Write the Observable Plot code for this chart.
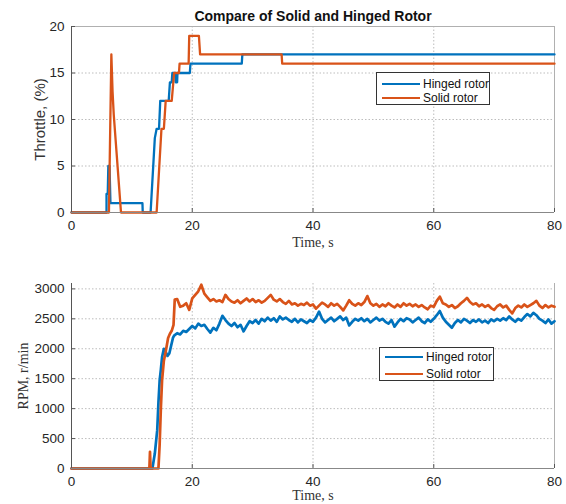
<!DOCTYPE html>
<html>
<head>
<meta charset="utf-8">
<script src="https://cdn.jsdelivr.net/npm/d3@7"></script>
<script src="https://cdn.jsdelivr.net/npm/@observablehq/plot@0.6"></script>
<style>
  body { margin: 0; background: white; }
  #wrap { position: relative; width: 566px; height: 504px; overflow: hidden; background: white; }
  #wrap svg { display: block; }
  .legend { position: absolute; border: 1px solid #333; background: white; box-sizing: border-box;
            font-family: 'Liberation Sans', Arial, sans-serif; font-size: 12px; color: #111; }
  .legend .row { position: absolute; left: 0; height: 0; }
  .legend .sw { position: absolute; height: 2px; top: -1px; }
  .legend .lb { position: absolute; top: -7px; line-height: 14px; white-space: nowrap; }
</style>
</head>
<body>
<div id="wrap"></div>
<script>
const titleText = "Compare of Solid and Hinged Rotor";
const seriesNames = ["Hinged rotor", "Solid rotor"];
const seriesColors = ["#0072BD", "#D95319"];
const xTicks = [0, 20, 40, 60, 80];
const throttleTicks = [0, 5, 10, 15, 20];
const rpmTicks = [0, 500, 1000, 1500, 2000, 2500, 3000];

// Throttle (%) vs time (s)
const hingedThrottle = [[0,0],[5.8,0],[5.8,2],[6.0,2],[6.1,5],[6.3,5],[6.45,1],[11.75,1],[11.8,0],[13.1,0],[13.8,8],[14.1,9],[14.5,9],[14.7,12],[16.1,12],[16.3,14],[16.6,14],[16.7,15],[17.2,15],[17.25,14],[17.5,14],[17.55,15],[19.6,15],[19.7,16],[28.2,16],[28.3,17],[80,17]];
const solidThrottle = [[0,0],[6.2,0],[6.6,17],[6.8,13],[7.0,10.5],[8.2,0],[14.1,0],[14.9,9],[15.3,9],[15.6,12],[16.6,12],[17.0,15],[17.8,15],[17.9,16],[19.4,16],[19.5,19],[21.1,19],[21.3,17],[34.8,17],[34.9,16],[80,16]];

// RPM (r/min) vs time (s)
const hingedRpm = [[0,0],[13.4,0],[13.8,250],[14.2,640],[14.4,1100],[14.6,1470],[14.8,1650],[15.0,1860],[15.3,2000],[15.6,1950],[15.9,1880],[16.2,1920],[16.5,2050],[16.8,2180],
[17,2220],[17.5,2260],[18,2240],[18.5,2300],[19,2280],[19.5,2330],[20,2380],[20.5,2340],[21,2420],[21.5,2380],[22,2400],[22.5,2330],[23,2270],[23.5,2350],[24,2310],[24.5,2420],[25,2550],[25.5,2480],[26,2420],[26.5,2380],[27,2430],[27.5,2360],[28,2400],[28.5,2290],[29,2380],[29.5,2460],[30,2430],[30.5,2480],[31,2420],[31.5,2500],[32,2460],[32.5,2520],[33,2470],[33.5,2510],[34,2450],[34.5,2540],[35,2490],[35.5,2520],[36,2480],[36.5,2450],[37,2500],[37.5,2440],[38,2490],[38.5,2460],[39,2430],[39.5,2480],[40,2450],[40.5,2520],[41,2620],[41.5,2500],[42,2440],[42.5,2480],[43,2520],[43.5,2460],[44,2500],[44.5,2540],[45,2480],[45.5,2520],[46,2390],[46.5,2450],[47,2500],[47.5,2470],[48,2510],[48.5,2460],[49,2500],[49.5,2440],[50,2480],[50.5,2520],[51,2470],[51.5,2500],[52,2450],[52.5,2420],[53,2480],[53.5,2370],[54,2440],[54.5,2500],[55,2460],[55.5,2510],[56,2490],[56.5,2440],[57,2480],[57.5,2520],[58,2460],[58.5,2430],[59,2490],[59.5,2450],[60,2500],[60.5,2560],[61,2630],[61.5,2520],[62,2450],[62.5,2400],[63,2350],[63.5,2430],[64,2480],[64.5,2440],[65,2500],[65.5,2470],[66,2430],[66.5,2480],[67,2450],[67.5,2490],[68,2440],[68.5,2470],[69,2430],[69.5,2490],[70,2460],[70.5,2500],[71,2470],[71.5,2510],[72,2480],[72.5,2540],[73,2490],[73.5,2450],[74,2500],[74.5,2470],[75,2530],[75.5,2580],[76,2540],[76.5,2600],[77,2560],[77.5,2500],[78,2470],[78.5,2430],[79,2490],[79.5,2420],[80,2460]];
const solidRpm = [[0,0],[12.9,0],[13.0,280],[13.1,0],[14.4,0],[14.6,400],[14.8,1000],[15.0,1470],[15.3,1800],[15.6,1950],[16.0,2180],[16.3,2250],[16.6,2300],[16.9,2400],[17.1,2820],
[17.5,2830],[18,2700],[18.5,2720],[19,2760],[19.5,2650],[20,2840],[20.5,2900],[21,2960],[21.5,3070],[22,2920],[22.5,2860],[23,2800],[23.5,2830],[24,2790],[24.5,2810],[25,2780],[25.5,2900],[26,2830],[26.5,2790],[27,2770],[27.5,2810],[28,2760],[28.5,2800],[29,2840],[29.5,2790],[30,2830],[30.5,2780],[31,2810],[31.5,2770],[32,2800],[32.5,2850],[33,2900],[33.5,2820],[34,2790],[34.5,2830],[35,2780],[35.5,2750],[36,2800],[36.5,2740],[37,2760],[37.5,2720],[38,2750],[38.5,2730],[39,2770],[39.5,2720],[40,2740],[40.5,2670],[41,2720],[41.5,2770],[42,2740],[42.5,2700],[43,2760],[43.5,2720],[44,2750],[44.5,2700],[45,2640],[45.5,2720],[46,2810],[46.5,2750],[47,2720],[47.5,2760],[48,2730],[48.5,2780],[49,2880],[49.5,2760],[50,2720],[50.5,2750],[51,2700],[51.5,2740],[52,2710],[52.5,2760],[53,2720],[53.5,2690],[54,2740],[54.5,2700],[55,2760],[55.5,2720],[56,2750],[56.5,2710],[57,2740],[57.5,2700],[58,2730],[58.5,2690],[59,2660],[59.5,2720],[60,2700],[60.5,2800],[61,2870],[61.5,2760],[62,2740],[62.5,2700],[63,2730],[63.5,2680],[64,2710],[64.5,2760],[65,2800],[65.5,2850],[66,2780],[66.5,2740],[67,2760],[67.5,2710],[68,2740],[68.5,2700],[69,2730],[69.5,2680],[70,2650],[70.5,2710],[71,2740],[71.5,2690],[72,2720],[72.5,2650],[73,2590],[73.5,2680],[74,2720],[74.5,2690],[75,2740],[75.5,2700],[76,2730],[76.5,2760],[77,2800],[77.5,2720],[78,2680],[78.5,2730],[79,2690],[79.5,2720],[80,2700]];

const sans = "'Liberation Sans', Arial, Helvetica, sans-serif";
const serif = "'Liberation Serif', 'DejaVu Serif', serif";
const gridStyle = {stroke: "#bdbdbd", strokeOpacity: 1, strokeDasharray: "1.5,2"};
const lineStyle = {x: d => d[0], y: d => d[1], strokeWidth: 2.3, strokeLinejoin: "round"};
const rpmLineStyle = {...lineStyle, strokeWidth: 2.7};
const fmt = d => String(d);

const topChart = Plot.plot({
  width: 566, height: 252,
  marginLeft: 71, marginRight: 12, marginTop: 26, marginBottom: 40,
  x: {domain: [0, 80]},
  y: {domain: [0, 20]},
  style: {fontFamily: sans, fontSize: "13.5px", color: "#262626", background: "white", overflow: "visible"},
  marks: [
    Plot.gridX(xTicks, gridStyle),
    Plot.gridY(throttleTicks, gridStyle),
    Plot.ruleY([20], {stroke: "#b0b0b0"}),
    Plot.ruleX([80], {stroke: "#b0b0b0"}),
    Plot.line(hingedThrottle, {...lineStyle, stroke: seriesColors[0]}),
    Plot.line(solidThrottle, {...lineStyle, stroke: seriesColors[1]}),
    Plot.axisX(xTicks, {tickSize: -4, tickPadding: 12, label: null, stroke: "#555", tickFormat: fmt}),
    Plot.axisY(throttleTicks, {tickSize: -4, tickPadding: 11, label: null, stroke: "#555", tickFormat: fmt}),
    Plot.ruleX([0], {stroke: "#555"}),
    Plot.ruleY([0], {stroke: "#888"}),
    Plot.text([titleText], {frameAnchor: "top", lineAnchor: "middle", dy: -10, fontWeight: "bold", fontSize: 14, fill: "#111"}),
    Plot.text(["Time, s"], {frameAnchor: "bottom", lineAnchor: "middle", dy: 30, fontFamily: serif, fontSize: 14, fill: "#333"}),
    Plot.text(["Throttle, (%)"], {frameAnchor: "left", textAnchor: "middle", lineAnchor: "middle", dx: -31, rotate: -90, fontSize: 15, fill: "#333"})
  ]
});

const bottomChart = Plot.plot({
  width: 566, height: 252,
  marginLeft: 71, marginRight: 12, marginTop: 31, marginBottom: 36,
  x: {domain: [0, 80]},
  y: {domain: [0, 3090]},
  style: {fontFamily: sans, fontSize: "13.5px", color: "#262626", background: "white", overflow: "visible"},
  marks: [
    Plot.gridX(xTicks, gridStyle),
    Plot.gridY(rpmTicks, gridStyle),
    Plot.ruleX([80], {stroke: "#b0b0b0"}),
    Plot.line(hingedRpm, {...rpmLineStyle, stroke: seriesColors[0]}),
    Plot.line(solidRpm, {...rpmLineStyle, stroke: seriesColors[1]}),
    Plot.axisX(xTicks, {tickSize: -4, tickPadding: 12, label: null, stroke: "#555", tickFormat: fmt}),
    Plot.axisY(rpmTicks, {tickSize: -4, tickPadding: 11, label: null, stroke: "#555", tickFormat: fmt}),
    Plot.ruleX([0], {stroke: "#555"}),
    Plot.ruleY([0], {stroke: "#888"}),
    Plot.text(["Time, s"], {frameAnchor: "bottom", lineAnchor: "middle", dy: 27, fontFamily: serif, fontSize: 14, fill: "#333"}),
    Plot.text(["RPM, r/min"], {frameAnchor: "left", textAnchor: "middle", lineAnchor: "middle", dx: -48, rotate: -90, fontFamily: serif, fontSize: 14, fill: "#333"})
  ]
});

const wrap = document.getElementById("wrap");
wrap.appendChild(topChart);
wrap.appendChild(bottomChart);

function legend(box, rows, lineX0, lineX1, textX) {
  const el = document.createElement("div");
  el.className = "legend";
  Object.assign(el.style, {left: box[0] + "px", top: box[1] + "px", width: box[2] + "px", height: box[3] + "px"});
  seriesNames.forEach((name, i) => {
    const row = document.createElement("div");
    row.className = "row";
    row.style.top = rows[i] + "px";
    const sw = document.createElement("div");
    sw.className = "sw";
    Object.assign(sw.style, {left: lineX0 + "px", width: (lineX1 - lineX0) + "px", background: seriesColors[i]});
    const lb = document.createElement("div");
    lb.className = "lb";
    lb.style.left = textX + "px";
    lb.textContent = name;
    row.appendChild(sw); row.appendChild(lb);
    el.appendChild(row);
  });
  wrap.appendChild(el);
}
legend([376, 72, 114, 33], [10.5, 24.5], 4.5, 43, 46);
legend([379, 347, 115, 34], [8.5, 25.5], 4.5, 43, 46);
</script>
</body>
</html>
